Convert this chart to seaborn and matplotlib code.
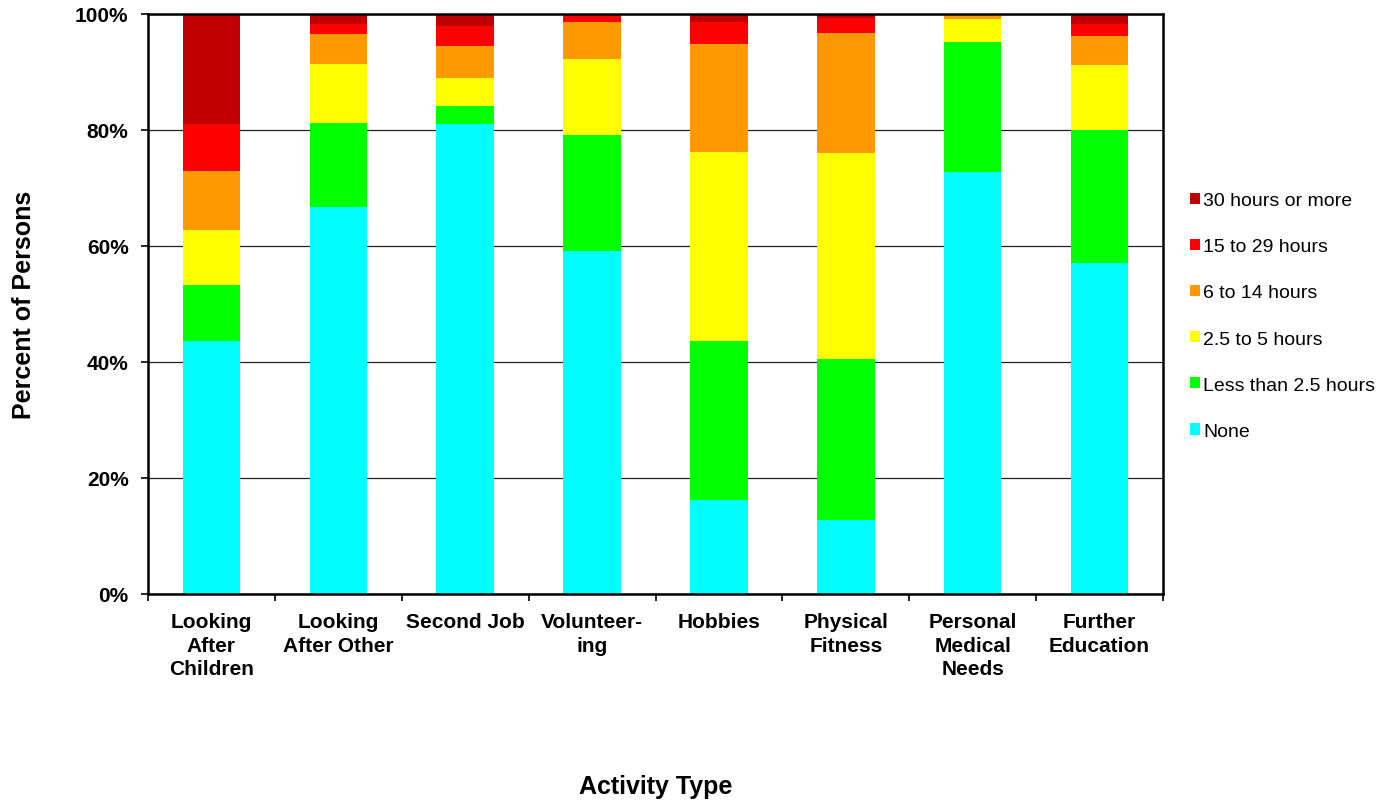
import numpy as np
import pandas as pd
import matplotlib
matplotlib.use("Agg")
import matplotlib.pyplot as plt
from matplotlib.patches import Patch
from matplotlib.ticker import FixedLocator, PercentFormatter
import seaborn as sns

# Activity categories (tick labels are wrapped as on the axis)
categories = [
    "Looking\nAfter\nChildren",
    "Looking\nAfter Other",
    "Second Job",
    "Volunteer-\ning",
    "Hobbies",
    "Physical\nFitness",
    "Personal\nMedical\nNeeds",
    "Further\nEducation",
]

# Share of persons (%) in each weekly-hours band, bottom band first
none_pct      = [43.6, 66.7, 81.0, 59.1, 16.2, 12.8, 72.8, 57.1]
lt_2_5_pct    = [ 9.7, 14.5,  3.1, 20.0, 27.4, 27.8, 22.4, 22.9]
h2_5_to_5_pct = [ 9.5, 10.2,  4.9, 13.1, 32.6, 35.4,  3.9, 11.2]
h6_to_14_pct  = [10.1,  5.2,  5.4,  6.5, 18.7, 20.7,  0.9,  5.0]
h15_to_29_pct = [ 8.1,  1.7,  3.5,  1.3,  3.7,  2.6,  0.0,  2.1]
h30_plus_pct  = [19.0,  1.7,  2.1,  0.0,  1.4,  0.7,  0.0,  1.7]

bands = ["None", "Less than 2.5 hours", "2.5 to 5 hours",
         "6 to 14 hours", "15 to 29 hours", "30 hours or more"]
series = [none_pct, lt_2_5_pct, h2_5_to_5_pct, h6_to_14_pct,
          h15_to_29_pct, h30_plus_pct]
colors = ["#00FFFF", "#00FF00", "#FFFF00", "#FF9900", "#FF0000", "#C00000"]

sns.set_theme(style="white")
plt.rcParams["font.family"] = ["Liberation Sans", "DejaVu Sans"]
plt.rcParams["text.color"] = "black"
plt.rcParams["axes.labelcolor"] = "black"
plt.rcParams["xtick.color"] = "black"
plt.rcParams["ytick.color"] = "black"

fig = plt.figure(figsize=(13.9, 8.03), dpi=100)
ax = fig.add_axes([148 / 1390, 1 - 595 / 803, 1015 / 1390, 580 / 803])

bottom = np.zeros(len(categories))
for band, vals, col in zip(bands, series, colors):
    df = pd.DataFrame({"activity": categories, "pct": vals})
    sns.barplot(data=df, x="activity", y="pct", order=categories,
                color=col, saturation=1, width=0.454, bottom=bottom.copy(),
                linewidth=0, errorbar=None, ax=ax, zorder=2)
    bottom += np.asarray(vals)

ax.set_xlim(-0.5, len(categories) - 0.5)
ax.set_ylim(0, 100)
ax.set_yticks(np.arange(0, 101, 20))
ax.yaxis.set_major_formatter(PercentFormatter(decimals=0))
ax.yaxis.grid(True, color="#222222", linewidth=0.9, zorder=0)
ax.set_axisbelow(True)

# Category boundaries carry the x tick marks; labels sit under the bars
ax.xaxis.set_minor_locator(FixedLocator(np.arange(-0.5, len(categories), 1.0)))
ax.tick_params(axis="x", which="major", length=0, pad=13, labelsize=15)
ax.tick_params(axis="x", which="minor", length=5, width=1.2,
               direction="out", color="black", bottom=True)
ax.tick_params(axis="y", which="major", length=5, width=1.2, left=True,
               direction="out", color="black", pad=9, labelsize=15)
for lab in ax.get_xticklabels() + ax.get_yticklabels():
    lab.set_fontweight("bold")
    lab.set_color("black")
for lab in ax.get_xticklabels():
    lab.set_linespacing(1.3)

for side in ["left", "right", "top", "bottom"]:
    ax.spines[side].set_visible(True)
    ax.spines[side].set_color("black")
    ax.spines[side].set_linewidth(1.8)

ax.set_xlabel("Activity Type", fontsize=18, fontweight="bold", va="center",
              color="black")
ax.set_ylabel("Percent of Persons", fontsize=18, fontweight="bold",
              va="center", color="black")
ax.xaxis.set_label_coords(0.5, (595 - 787) / 580)
ax.yaxis.set_label_coords((24 - 148) / 1015, 0.5)

handles = [Patch(facecolor=c, edgecolor="none", label=b)
           for b, c in zip(bands, colors)][::-1]
fig.legend(handles=handles, loc="center left",
           bbox_to_anchor=(1190 / 1390, 1 - 317 / 803),
           frameon=False, fontsize=14, handlelength=0.52, handleheight=0.5,
           handletextpad=0.15, labelspacing=1.5, borderpad=0,
           borderaxespad=0, labelcolor="black")

fig.savefig("out.png", dpi=100)
